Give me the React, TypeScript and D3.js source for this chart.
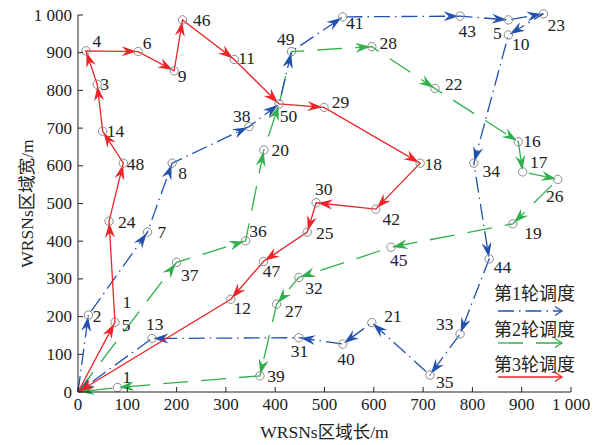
import React from "react";
import * as d3 from "d3";

// ---------- data ----------
const nodeIds = [
  1, 2, 3, 4, 5, 6, 7, 8, 9, 10, 11, 12, 13, 14, 15, 16, 17, 18, 19, 20, 21, 22, 23, 24, 25,
  26, 27, 28, 29, 30, 31, 32, 33, 34, 35, 36, 37, 38, 39, 40, 41, 42, 43, 44, 45, 46, 47, 48, 49, 50,
];
const nodeX = [
  80, 21, 39, 16, 873, 122, 141, 191, 195, 873, 317, 310, 150, 50, 75, 893, 902, 694, 882, 377, 596, 724, 944, 63, 465,
  973, 403, 596, 499, 483, 448, 448, 775, 803, 714, 340, 200, 347, 369, 537, 537, 604, 775, 834, 635, 212, 376, 92, 433, 408,
];
const nodeY = [
  12, 204, 816, 905, 987, 903, 424, 607, 852, 947, 882, 246, 142, 692, 185, 664, 584, 607, 446, 642, 184, 805, 1003, 453, 424,
  564, 233, 916, 755, 502, 144, 304, 154, 607, 45, 401, 344, 704, 43, 127, 995, 485, 997, 353, 384, 987, 346, 607, 903, 764,
];
// 0 = sink at the origin
const route1 = [0, 2, 7, 8, 38, 50, 49, 41, 43, 5, 23, 10, 34, 44, 33, 35, 21, 40, 31, 13, 0];
const route2 = [0, 37, 36, 20, 50, 49, 28, 22, 16, 17, 26, 19, 45, 32, 27, 39, 1, 0];
const route3 = [0, 15, 24, 48, 14, 3, 4, 6, 9, 46, 11, 50, 29, 18, 42, 30, 25, 47, 12, 0];
const xTicks = [0, 100, 200, 300, 400, 500, 600, 700, 800, 900, 1000];
const yTicks = [0, 100, 200, 300, 400, 500, 600, 700, 800, 900, 1000];
const tickLabels = ["0", "100", "200", "300", "400", "500", "600", "700", "800", "900", "1 000"];
const legendLabels = ["第1轮调度", "第2轮调度", "第3轮调度"];
const xTitle = "WRSNs区域长/m";
const yTitle = "WRSNs区域宽/m";

// ---------- layout / style ----------
const W = 600;
const H = 445;
const left = 78, right = 571, top = 15, bottom = 392;
const colors = ["#2252ad", "#2fb04c", "#ec2327"];
const dashes = ["16,5,1.5,5", "25,13", null];
const FONT = "'Liberation Serif', 'Times New Roman', 'Noto Sans CJK SC', serif";

// label offsets (px) from each circle centre: [dx, dy of baseline]
const labelOffsets: Record<number, [number, number]> = {
  1: [5, -4], 2: [4.5, 6.5], 3: [3, 6], 4: [6.5, -4], 5: [-15.5, 19.5], 6: [4.5, -2.5],
  7: [10, 6], 8: [6, 16], 9: [3.5, 11], 10: [3.5, 15], 11: [4, 4.7], 12: [2.6, 14.7],
  13: [-6, -8.3], 14: [4, 5.7], 16: [5, 5], 17: [7.3, -3.4], 18: [4.3, 6.7],
  19: [11.3, 15.3], 20: [7.7, 6], 21: [12.3, -0.4], 22: [10, 1.7], 23: [4, 16.7], 24: [9, 6.3],
  25: [8.7, 7], 26: [-11.7, 22.4], 27: [8.3, 12.7], 28: [7.6, 2.6], 29: [7.7, 1], 30: [-1, -7.7],
  31: [-8, 19], 32: [6.3, 16.7], 33: [-24, -4], 34: [8.7, 13.4], 35: [6, 13.3], 36: [3.6, -4],
  37: [4.3, 18.4], 38: [-16, -5], 39: [7.3, 6], 40: [-5.4, 21], 41: [3.3, 11.7], 42: [6.7, 16],
  43: [-1.7, 20.7], 44: [4.7, 13.7], 45: [-1, 18.7], 46: [10.4, 6], 47: [-0.6, 15.6], 48: [3.4, 6.7],
  49: [-14.4, -6.7], 50: [0.7, 17.7],
};

export default function App() {
  const x = d3.scaleLinear().domain([0, 1000]).range([left, right]);
  const y = d3.scaleLinear().domain([0, 1000]).range([bottom, top]);

  const pos = (id: number): [number, number] => {
    if (id === 0) return [x(0), y(0)];
    const i = nodeIds.indexOf(id);
    return [x(nodeX[i]), y(nodeY[i])];
  };

  const line = d3.line<[number, number]>().x((d) => d[0]).y((d) => d[1]);

  const arrowHead = (p: [number, number], q: [number, number]) => {
    const dx = q[0] - p[0], dy = q[1] - p[1];
    const len = Math.hypot(dx, dy);
    const ux = dx / len, uy = dy / len;
    const nx = -uy, ny = ux;
    const L = 15, hw = 5, notch = 5, gap = 1.5;
    const tx = q[0] - ux * gap, ty = q[1] - uy * gap;
    const bx = tx - ux * L, by = ty - uy * L;
    const mx = tx - ux * (L - notch), my = ty - uy * (L - notch);
    return `M${tx},${ty}L${bx + nx * hw},${by + ny * hw}L${mx},${my}L${bx - nx * hw},${by - ny * hw}Z`;
  };

  const routes = [route1, route2, route3];
  const drawOrder = [1, 0, 2];

  return (
    <svg
      width={W}
      height={H}
      style={{ position: "absolute", left: 0, top: 0, background: "#fff" }}
      fontFamily={FONT}
    >
      <rect width={W} height={H} fill="#fff" />
      {/* routes */}
      {drawOrder.map((ri) => {
        const pts = routes[ri].map(pos);
        return (
          <g key={ri}>
            <path
              d={line(pts) || ""}
              fill="none"
              stroke={colors[ri]}
              strokeWidth={1.3}
              strokeDasharray={dashes[ri] || undefined}
            />
            {pts.slice(1).map((q, k) => (
              <path key={k} d={arrowHead(pts[k], q)} fill={colors[ri]} stroke="none" />
            ))}
          </g>
        );
      })}
      {/* nodes */}
      {nodeIds.map((id, i) => (
        <circle key={id} cx={x(nodeX[i])} cy={y(nodeY[i])} r={4.2} fill="none" stroke="#8a8a8a" strokeWidth={1} />
      ))}
      {nodeIds.map((id, i) => {
        const cx = x(nodeX[i]), cy = y(nodeY[i]);
        if (id === 15) {
          return (
            <g key={id} fontSize={17.5} fill="#222">
              <text x={cx + 7.5} y={cy - 14}>1</text>
              <text x={cx + 6.7} y={cy + 8.4}>5</text>
            </g>
          );
        }
        const o = labelOffsets[id] || [5, 5];
        return (
          <text key={id} x={cx + o[0]} y={cy + o[1]} fontSize={17.5} fill="#222">
            {String(id)}
          </text>
        );
      })}
      {/* axes */}
      <g stroke="#222" strokeWidth={1}>
        <line x1={left} y1={bottom} x2={right} y2={bottom} />
        <line x1={left} y1={bottom} x2={left} y2={top} />
        {xTicks.map((t) => (
          <line key={"xt" + t} x1={x(t)} x2={x(t)} y1={bottom} y2={bottom - 5} />
        ))}
        {yTicks.map((t) => (
          <line key={"yt" + t} x1={left} x2={left + 5} y1={y(t)} y2={y(t)} />
        ))}
      </g>
      <g fontSize={17} fill="#222">
        {xTicks.map((t, i) => (
          <text key={"xl" + t} x={x(t)} y={bottom + 18} textAnchor="middle">
            {tickLabels[i]}
          </text>
        ))}
        {yTicks.map((t, i) => (
          <text key={"yl" + t} x={left - 6} y={y(t) + 5.5} textAnchor="end">
            {tickLabels[i]}
          </text>
        ))}
        <text x={(left + right) / 2} y={438} textAnchor="middle" fontSize={17.5}>
          {xTitle}
        </text>
        <text
          transform={`translate(33,${(top + bottom) / 2}) rotate(-90)`}
          textAnchor="middle"
          fontSize={17.5}
        >
          {yTitle}
        </text>
      </g>
      {/* legend */}
      {legendLabels.map((lab, i) => {
        const ty = [300, 336, 371][i];
        const ly = [311, 343, 377][i];
        return (
          <g key={lab}>
            <text x={494} y={ty} fontSize={18} fill="#222">
              {lab}
            </text>
            <line
              x1={498}
              x2={562}
              y1={ly}
              y2={ly}
              stroke={colors[i]}
              strokeWidth={1.3}
              strokeDasharray={dashes[i] || undefined}
            />
            <path
              d={`M${555},${ly - 4.5}L${562},${ly}L${555},${ly + 4.5}`}
              fill="none"
              stroke={colors[i]}
              strokeWidth={1.3}
            />
          </g>
        );
      })}
    </svg>
  );
}
